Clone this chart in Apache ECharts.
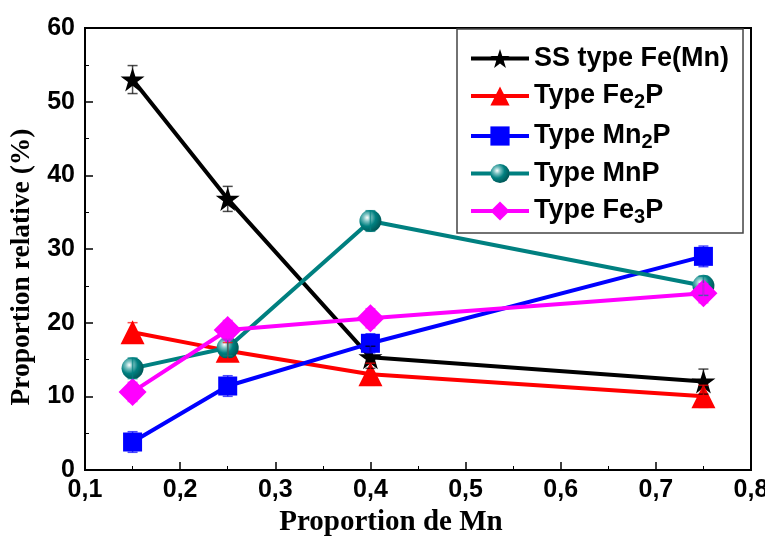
<!DOCTYPE html>
<html>
<head>
<meta charset="utf-8">
<script src="https://cdn.jsdelivr.net/npm/echarts@6/dist/echarts.min.js"></script>
<style>
  html, body { margin: 0; padding: 0; background: #fff; }
  #main { width: 765px; height: 537px; }
</style>
</head>
<body>
<div id="main"></div>
<script>
// 数据
let xs = [0.15, 0.25, 0.4, 0.75];
let ssFe = [53, 36.8, 15.3, 12];
let ssFeErr = [1.9, 1.7, 1.5, 1.7];
let fe2p = [18.7, 16.2, 13, 10];
let fe2pErr = [1.3, 1.1, 1.5, 1.5];
let mn2p = [3.8, 11.4, 17.2, 29];
let mn2pErr = [1.4, 1.4, 1.3, 1.4];
let mnp = [13.8, 16.6, 33.8, 25];
let mnpErr = [1.4, 1.1, 1.4, 1.3];
let fe3p = [10.6, 19, 20.6, 24];
let fe3pErr = [1.3, 1.3, 1.3, 1.3];

let names = ['SS type Fe(Mn)', 'Type Fe2P', 'Type Mn2P', 'Type MnP', 'Type Fe3P'];
let colors = ['#000000', '#ff0000', '#0000ff', '#008080', '#ff00ff'];

let myChart = echarts.init(document.getElementById('main'));

function pairs(ys) {
    return xs.map(function (x, i) { return [x, ys[i]]; });
}

// 误差棒
function errSeries(ys, err, color) {
    return {
        type: 'custom',
        z: 4,
        silent: true,
        data: xs.map(function (x, i) { return [x, ys[i] - err[i], ys[i] + err[i]]; }),
        renderItem: function (params, api) {
            let lo = api.coord([api.value(0), api.value(1)]);
            let hi = api.coord([api.value(0), api.value(2)]);
            let w = 5;
            let st = { stroke: color, lineWidth: 1.5, opacity: 0.7 };
            return {
                type: 'group',
                children: [
                    { type: 'line', shape: { x1: lo[0], y1: lo[1], x2: hi[0], y2: hi[1] }, style: st },
                    { type: 'line', shape: { x1: lo[0] - w, y1: lo[1], x2: lo[0] + w, y2: lo[1] }, style: st },
                    { type: 'line', shape: { x1: hi[0] - w, y1: hi[1], x2: hi[0] + w, y2: hi[1] }, style: st }
                ]
            };
        }
    };
}

let starPath = 'path://M50,0 L61.8,35.4 L100,35.4 L69.1,57.3 L80.9,95.1 L50,72.4 L19.1,95.1 L30.9,57.3 L0,35.4 L38.2,35.4 Z';

function lineSeries(idx, ys, symbol, size, itemColor) {
    return {
        name: names[idx],
        type: 'line',
        z: 3,
        data: pairs(ys),
        symbol: symbol,
        symbolSize: size,
        showAllSymbol: true,
        lineStyle: { color: colors[idx], width: 4 },
        itemStyle: { color: itemColor || colors[idx], borderWidth: 0 }
    };
}

let sphere = new echarts.graphic.RadialGradient(0.35, 0.35, 0.65, [
    { offset: 0, color: '#ffffff' },
    { offset: 0.25, color: '#7fc4c4' },
    { offset: 0.6, color: '#008080' },
    { offset: 1, color: '#005a5a' }
]);

let labelFont = { fontFamily: 'Liberation Sans', fontWeight: 'bold', fontSize: 25, color: '#000' };

let option = {
    animation: false,
    backgroundColor: '#fff',
    grid: {
        left: 85, right: 14, top: 28, bottom: 67,
        outerBoundsMode: 'none',
        containLabel: false,
        show: true, borderColor: '#000', borderWidth: 2, backgroundColor: 'transparent'
    },
    legend: {
        orient: 'vertical',
        left: 457,
        top: 29,
        itemWidth: 58,
        itemHeight: 24,
        itemGap: 8,
        padding: [16, 14, 6, 12],
        borderColor: '#444',
        borderWidth: 1.5,
        backgroundColor: '#fff',
        lineStyle: { width: 4 },
        data: names,
        formatter: function (n) {
            let m = n.match(/^(.*?)(\d)(P)$/);
            if (m) return '{a|' + m[1] + '}{s|' + m[2] + '}{a|' + m[3] + '}';
            return '{a|' + n + '}';
        },
        textStyle: {
            rich: {
                a: { fontFamily: 'Liberation Sans', fontWeight: 'bold', fontSize: 27, color: '#000', lineHeight: 26 },
                s: { fontFamily: 'Liberation Sans', fontWeight: 'bold', fontSize: 20, color: '#000', lineHeight: 16, padding: [12, 0, 0, 0] }
            }
        }
    },
    xAxis: {
        type: 'value',
        min: 0.1,
        max: 0.8,
        interval: 0.1,
        name: 'Proportion de Mn',
        nameLocation: 'middle',
        nameGap: 38,
        nameTextStyle: { fontFamily: 'Liberation Serif', fontWeight: 'bold', fontSize: 29, color: '#000', padding: [0, 54, 0, 0] },
        axisLine: { lineStyle: { color: '#000', width: 2 } },
        axisTick: { inside: true, length: 8, lineStyle: { color: '#000', width: 1.5 } },
        minorTick: { show: true, splitNumber: 2, length: 4, lineStyle: { color: '#000', width: 1 } },
        splitLine: { show: false },
        axisLabel: Object.assign({ margin: 8, formatter: function (v) { return v.toFixed(1).replace('.', ','); } }, labelFont)
    },
    yAxis: {
        type: 'value',
        min: 0,
        max: 60,
        interval: 10,
        name: 'Proportion relative (%)',
        nameLocation: 'middle',
        nameGap: 47,
        nameTextStyle: { fontFamily: 'Liberation Serif', fontWeight: 'bold', fontSize: 27.5, color: '#000', padding: [0, 36, 0, 0] },
        axisLine: { show: true, lineStyle: { color: '#000', width: 2 } },
        axisTick: { show: true, inside: true, length: 8, lineStyle: { color: '#000', width: 1.5 } },
        minorTick: { show: true, splitNumber: 2, length: 4, lineStyle: { color: '#000', width: 1 } },
        splitLine: { show: false },
        axisLabel: Object.assign({ margin: 10 }, labelFont)
    },
    series: [
        errSeries(ssFe, ssFeErr, colors[0]),
        errSeries(fe2p, fe2pErr, colors[1]),
        errSeries(mn2p, mn2pErr, colors[2]),
        errSeries(mnp, mnpErr, colors[3]),
        errSeries(fe3p, fe3pErr, colors[4]),
        lineSeries(0, ssFe, starPath, 24),
        lineSeries(1, fe2p, 'triangle', 24),
        lineSeries(2, mn2p, 'rect', 19),
        lineSeries(3, mnp, 'circle', 22, sphere),
        lineSeries(4, fe3p, 'diamond', 28)
    ]
};

myChart.setOption(option);
</script>
</body>
</html>
